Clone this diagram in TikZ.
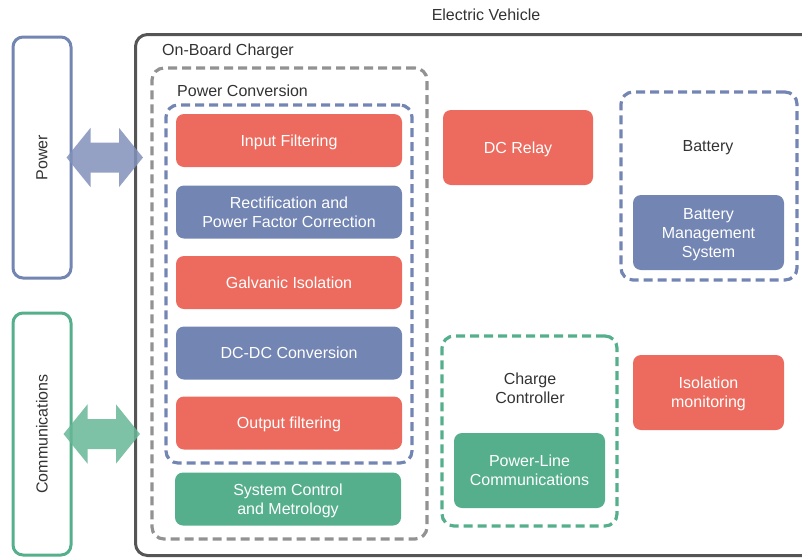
\documentclass[tikz,border=0pt]{standalone}
\usepackage{fontspec}
\setmainfont{Liberation Sans}
\usetikzlibrary{arrows.meta,calc}
\definecolor{evred}{HTML}{EC6B5E}
\definecolor{evblue}{HTML}{7385B3}
\definecolor{evgreen}{HTML}{55AF8C}
\definecolor{evgray}{HTML}{929292}
\definecolor{evdark}{HTML}{555555}
\definecolor{evtext}{HTML}{333333}
\tikzset{
  block/.style={rounded corners=8pt, text=white, align=center, inner sep=0pt,
    minimum width=226pt, minimum height=53pt, text depth=0pt},
  wideblock/.style={block, minimum width=151pt, minimum height=75pt},
  group/.style={rounded corners=12pt, line width=3.2pt, dash pattern=on 9pt off 5pt,
    inner sep=0pt},
  side/.style={rounded corners=10pt, line width=3pt, inner sep=0pt,
    minimum width=58pt, minimum height=#1},
  label/.style={text=evtext, inner sep=0pt},
  bigarrow/.style={line width=30pt, {Triangle[length=24pt,width=58pt]}-{Triangle[length=24pt,width=58pt]}}
}

\begin{document}
\begin{tikzpicture}[x=1pt,y=-1pt,font=\fontsize{16}{19}\selectfont]
  \useasboundingbox (0,0) rectangle (802,557);
  \clip (0,0) rectangle (802,557);

  % outer frames
  \node[label] (evlbl) at (486,15) {Electric Vehicle};
  \node[draw=evdark, line width=3pt, rounded corners=12pt, inner sep=0pt,
    minimum width=700pt, minimum height=521pt, anchor=north west] (ev) at (134,33) {};
  \node[side=241pt, draw=evblue] (power) at (42,157.5) {};
  \node[rotate=90, label] (powerlbl) at (power.center) {Power};
  \node[side=242pt, draw=evgreen] (comms) at (42,434) {};
  \node[rotate=90, label] (commslbl) at (comms.center) {Communications};

  % on-board charger
  \node[group, draw=evgray, minimum width=275pt, minimum height=471pt] (obc) at (289.5,303.5) {};
  \node[label, anchor=west] (obclbl) at (162,51) {On-Board Charger};
  \node[group, draw=evblue, minimum width=246pt, minimum height=358pt] (pc) at (289,284) {};
  \node[label, anchor=west] (pclbl) at (177,91) {Power Conversion};

  \node[block, fill=evred] (infilt) at (289,140.5) {Input Filtering};
  \node[block, fill=evblue] (rectif) at (289,212) {Rectification and\\Power Factor Correction};
  \node[block, fill=evred] (galv) at (289,282.5) {Galvanic Isolation};
  \node[block, fill=evblue] (dcdc) at (289,353) {DC-DC Conversion};
  \node[block, fill=evred] (outfilt) at (289,423) {Output filtering};
  \node[block, fill=evgreen] (sysctl) at (288,499) {System Control\\and Metrology};

  % right side
  \node[wideblock, fill=evred, minimum width=150pt] (relay) at (518,147.5) {DC Relay};
  \node[group, draw=evblue, minimum width=176pt, minimum height=188pt] (batt) at (709,186) {};
  \node[label] (battlbl) at (708,148) {Battery};
  \node[wideblock, fill=evblue] (bms) at (708.5,232.5) {Battery\\Management\\System};
  \node[group, draw=evgreen, minimum width=175pt, minimum height=190pt] (charge) at (529.5,431) {};
  \node[label, align=center] (chargelbl) at (530,388) {Charge\\Controller};
  \node[wideblock, fill=evgreen] (plc) at (529.5,470.5) {Power-Line\\Communications};
  \node[wideblock, fill=evred] (iso) at (708.5,392.5) {Isolation\\monitoring};

  % interface arrows
  \begin{scope}[transparency group, opacity=0.85]
    \draw[bigarrow, draw=evblue!90, fill=evblue!90, shorten <=-6pt, shorten >=-9pt]
      (power.east) -- (power.east -| ev.west);
  \end{scope}
  \begin{scope}[transparency group, opacity=0.85]
    \draw[bigarrow, draw=evgreen!90, fill=evgreen!90, shorten <=-9pt, shorten >=-6pt]
      (comms.east) -- (comms.east -| ev.west);
  \end{scope}
\end{tikzpicture}
\end{document}
